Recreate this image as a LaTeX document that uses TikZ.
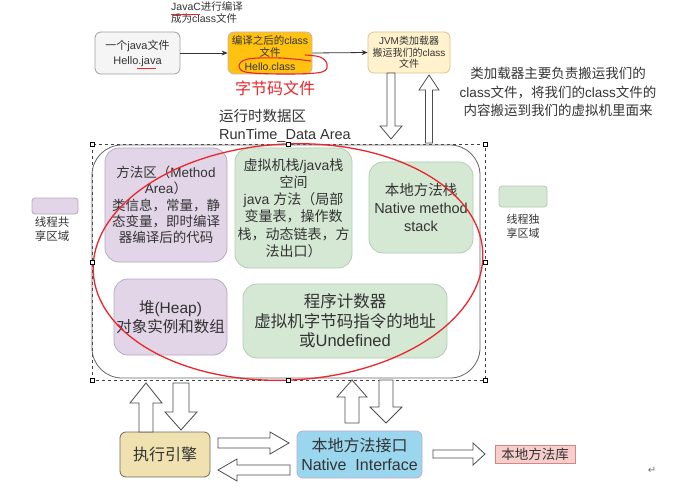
\documentclass[tikz,border=0pt]{standalone}
\usepackage{fontspec}
\setmainfont{Liberation Sans}
\newfontfamily\cjk{Noto Sans CJK SC}
\newfontfamily\symf{DejaVu Sans}
\usetikzlibrary{arrows.meta}
% automatic CJK font switching
\XeTeXinterchartokenstate=1
\newXeTeXintercharclass\CJKcls
\newcount\cccnt
\cccnt="3000 \loop\XeTeXcharclass\cccnt=\CJKcls\advance\cccnt by 1 \ifnum\cccnt<"3040 \repeat
\cccnt="4E00 \loop\XeTeXcharclass\cccnt=\CJKcls\advance\cccnt by 1 \ifnum\cccnt<"A000 \repeat
\cccnt="FF00 \loop\XeTeXcharclass\cccnt=\CJKcls\advance\cccnt by 1 \ifnum\cccnt<"FFF0 \repeat
\XeTeXinterchartoks 0 \CJKcls = {\cjk}
\XeTeXinterchartoks 4095 \CJKcls = {\cjk}
\XeTeXinterchartoks \CJKcls 0 = {\rmfamily}
\XeTeXinterchartoks \CJKcls 4095 = {\rmfamily}
\newcommand\myfs[2]{\fontsize{#1}{#2}\selectfont}
\definecolor{txt}{HTML}{333333}
\definecolor{grayfill}{HTML}{F5F5F5}\definecolor{grayline}{HTML}{A0A0A0}
\definecolor{orfill}{HTML}{FFC20E}\definecolor{orline}{HTML}{C4B2CC}
\definecolor{jvmfill}{HTML}{FFF2CC}\definecolor{jvmline}{HTML}{DCC48A}
\definecolor{purfill}{HTML}{E1D5E7}\definecolor{purline}{HTML}{B9A9C6}
\definecolor{grnfill}{HTML}{D5E8D4}\definecolor{grnline}{HTML}{B2CDB0}
\definecolor{exfill}{HTML}{F0E2B0}\definecolor{exline}{HTML}{6E6A5A}
\definecolor{nifill}{HTML}{9AD6EE}\definecolor{niline}{HTML}{C3A7D8}
\definecolor{libfill}{HTML}{F8CECC}\definecolor{libline}{HTML}{D58582}
\definecolor{redmark}{HTML}{E8262C}
\tikzset{
  box/.style={draw, line width=0.8pt, rounded corners=6pt, inner sep=0pt, align=center, text=txt},
  bigbox/.style={box, rounded corners=14pt},
  blockarrow/.style={draw=black!70, fill=white, line width=0.8pt, line join=miter},
  flowarrow/.style={draw=txt, line width=0.8pt, -{Stealth[length=6pt,width=5pt]}},
  handle/.style={draw=black, fill=white, line width=0.5pt},
  lbl/.style={inner sep=0pt, align=center, text=txt},
  redpen/.style={draw=redmark, line width=1.1pt}
}
% vertical block arrow: x, tail y, head-base y, tip y, half shaft, half head
\newcommand\varrow[6]{\draw[blockarrow] (#1-#5,#2) -- (#1-#5,#3) -- (#1-#6,#3) -- (#1,#4) -- (#1+#6,#3) -- (#1+#5,#3) -- (#1+#5,#2) -- cycle;}
% horizontal block arrow: y, tail x, head-base x, tip x, half shaft, half head
\newcommand\harrow[6]{\draw[blockarrow] (#2,#1-#5) -- (#3,#1-#5) -- (#3,#1-#6) -- (#4,#1) -- (#3,#1+#6) -- (#3,#1+#5) -- (#2,#1+#5) -- cycle;}
\newcommand\hdl[2]{\draw[handle] (#1-2,#2-2) rectangle (#1+2,#2+2);}
\begin{document}
\begin{tikzpicture}[x=1pt,y=-1pt]
\useasboundingbox (0,0) rectangle (688,492);
\fill[white] (0,0) rectangle (688,492);

% ---- top row ----
\node[lbl, anchor=west, align=left, font=\myfs{10.5}{12}] (javac) at (171,13) {JavaC进行编译\\成为class文件};
\draw[redpen] (171,14.5) -- (200,14.5);

\node[box, fill=grayfill, draw=grayline, minimum width=85pt, minimum height=42pt, font=\myfs{11}{15}] (java) at (137.5,53) {一个java文件\\Hello.java};
\draw[redpen] (137,68.5) -- (156,68.5);

\node[box, fill=orfill, draw=orline, minimum width=84pt, minimum height=42pt, font=\myfs{10.5}{12}] (cls) at (270,53) {编译之后的class\\文件\\[1.5pt]Hello.class};

\node[box, fill=jvmfill, draw=jvmline, minimum width=82pt, minimum height=41pt, font=\myfs{10}{11.5}] (jvm) at (409,52.5) {JVM类加载器\\搬运我们的class\\文件};

\draw[flowarrow] (java.east) -- (cls.west);
\draw[flowarrow] (cls.east) -- (jvm.west);

\draw[redpen] plot[smooth, tension=0.6] coordinates {(311,61) (280,58) (248,59) (239,66) (248,72.5) (290,74) (322,72) (327,64) (320,57) (305,55)};
\node[lbl, text=redmark, font=\myfs{16}{18}] (bytecode) at (275,88) {字节码文件};

\node[lbl, font=\myfs{13.5}{18.5}] (note) at (558,92) {类加载器主要负责搬运我们的\\class文件，将我们的class文件的\\内容搬运到我们的虚拟机里面来};

% JVM <-> runtime area arrows
\varrow{391}{73}{126}{139}{4}{11}
\varrow{429}{143}{90}{75}{3.5}{10}

\node[lbl, anchor=west, align=left, font=\myfs{14.5}{18}] (rdalabel) at (219,126) {运行时数据区\\RunTime\_Data Area};

% ---- runtime data area ----
\draw[black!75, dashed, line width=0.6pt] (92,144) rectangle (485,380);
\draw[black!60, line width=0.8pt, rounded corners=30pt] (92,145) rectangle (480,378);
\coordinate (rda) at (288,262);

\node[bigbox, fill=purfill, draw=purline, minimum width=122pt, minimum height=114pt, font=\myfs{13.5}{16.3}] (method) at (166,205) {方法区（Method\\Area）\\类信息，常量，静\\态变量，即时编译\\器编译后的代码};
\node[bigbox, fill=grnfill, draw=grnline, minimum width=117pt, minimum height=120pt, font=\myfs{14}{17.2}] (vmstack) at (293.5,208) {虚拟机栈/java栈\\空间\\java 方法（局部\\变量表，操作数\\栈，动态链表，方\\法出口）};
\node[bigbox, fill=grnfill, draw=grnline, minimum width=104pt, minimum height=91pt, font=\myfs{14.5}{18}] (nstack) at (421,207.5) {本地方法栈\\Native method\\stack};
\node[bigbox, fill=purfill, draw=purline, minimum width=113pt, minimum height=76pt, font=\myfs{15.5}{19}] (heap) at (170.5,317) {堆(Heap)\\对象实例和数组};
\node[bigbox, fill=grnfill, draw=grnline, minimum width=204pt, minimum height=74pt, font=\myfs{16.5}{19.5}] (pc) at (345,321) {程序计数器\\虚拟机字节码指令的地址\\或Undefined};

\draw[redmark, line width=1.3pt, rotate around={3:(288,262)}] (288,262) ellipse [x radius=195, y radius=118];

\hdl{92}{144}\hdl{288}{144}\hdl{485}{144}
\hdl{92}{262}\hdl{485}{262}
\hdl{92}{380}\hdl{288}{380}\hdl{485}{380}

% ---- legends ----
\node[box, rounded corners=3pt, fill=purfill, draw=purline, minimum width=46pt, minimum height=16pt] (legshared) at (55,206) {};
\node[lbl, font=\myfs{11.5}{14}] (legsharedtxt) at (52,229) {线程共\\享区域};
\node[box, rounded corners=3pt, fill=grnfill, draw=grnline, minimum width=48pt, minimum height=21pt] (legown) at (523,196.5) {};
\node[lbl, font=\myfs{11}{13.5}] (legowntxt) at (523,226.5) {线程独\\享区域};

% ---- bottom ----
\node[box, fill=exfill, draw=exline, minimum width=90pt, minimum height=45pt, font=\myfs{16}{19}] (exec) at (165,454.5) {执行引擎};
\node[box, fill=nifill, draw=niline, minimum width=125pt, minimum height=47pt, font=\myfs{16}{18.5}] (nif) at (359.5,454.5) {本地方法接口\\Native\ \ Interface};
\node[box, rounded corners=0pt, fill=libfill, draw=libline, minimum width=80pt, minimum height=18pt, font=\myfs{13.5}{15}] (nlib) at (535,454) {本地方法库};

\varrow{146}{432}{403}{383}{7}{16}
\varrow{181}{383}{412}{430}{8}{16}
\harrow{443}{218}{270}{289}{5}{11}
\harrow{470}{290}{237}{218}{5}{11}
\varrow{352}{423}{397}{380}{7}{15}
\varrow{386}{380}{407}{423}{7}{16}
\harrow{454}{433}{473}{485}{4}{11}

\node[lbl, text=black!55, font=\symf\myfs{10}{12}] (ret) at (652,470) {↵};
\end{tikzpicture}
\end{document}
